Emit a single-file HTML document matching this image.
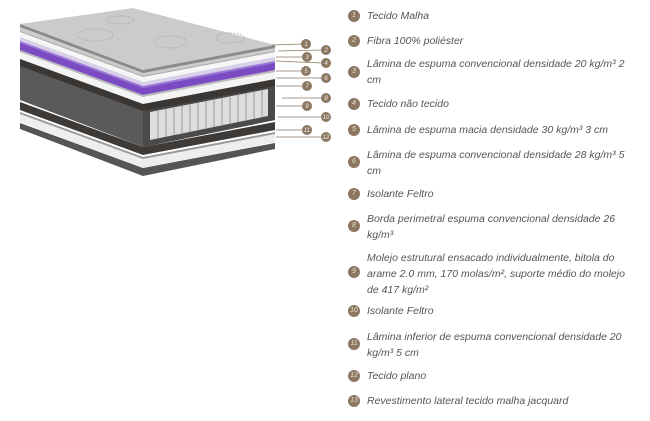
<!DOCTYPE html>
<html><head><meta charset="utf-8"><style>
body{margin:0;width:650px;height:421px;background:#fff;position:relative;overflow:hidden;font-family:"Liberation Sans",sans-serif}
.it{position:absolute;left:367px;font-style:italic;font-size:10.5px;color:#555;line-height:16px;white-space:nowrap}
.c{position:absolute;left:348px;width:12px;height:12px;border-radius:50%;background:#8c7862;color:#e8ddd0;font-size:7px;text-align:center;line-height:12px;font-style:italic}
</style></head><body>
<svg width="340" height="190" style="position:absolute;left:0;top:0">
<g stroke="none">
<polygon points="20,123 143,168 275,143 275,149 143,176 20,129" fill="#555"/>
<polygon points="20,112 143,157 275,132 275,142 143,168 20,122" fill="#eee"/>
<polygon points="20,112 143,157 275,132 275,134 143,159 20,114" fill="#999"/>
<polygon points="20,102 143,147 275,122 275,130 143,155 20,110" fill="#3e3a38"/>
<polygon points="20,64 143,109 275,84 275,120 143,147 20,100" fill="#5a5a5a"/>
<polygon points="143,109 275,84 275,120 143,147" fill="#4a4a4a"/>
<polygon points="150,112 268,89 268,116 150,140" fill="#ddd"/>
<g stroke="#999" stroke-width="1">
<line x1="158" y1="111" x2="158" y2="138"/><line x1="166" y1="109" x2="166" y2="137"/><line x1="174" y1="108" x2="174" y2="135"/><line x1="182" y1="106" x2="182" y2="133"/><line x1="190" y1="105" x2="190" y2="132"/><line x1="198" y1="103" x2="198" y2="130"/><line x1="206" y1="101" x2="206" y2="129"/><line x1="214" y1="100" x2="214" y2="127"/><line x1="222" y1="98" x2="222" y2="125"/><line x1="230" y1="97" x2="230" y2="124"/><line x1="238" y1="95" x2="238" y2="122"/><line x1="246" y1="93" x2="246" y2="120"/><line x1="254" y1="92" x2="254" y2="119"/><line x1="262" y1="90" x2="262" y2="117"/>
</g>
<polygon points="20,58 143,103 275,78 275,86 143,111 20,66" fill="#3a3634"/>
<polygon points="20,50 143,95 275,70 275,79 143,104 20,59" fill="#f4f4f4"/>
<polygon points="20,50 143,95 275,70 275,72 143,97 20,52" fill="#bbb"/>
<polygon points="20,40 143,85 275,60 275,70 143,95 20,50" fill="#7a4bc2"/>
<polygon points="20,40 143,85 275,60 275,63 143,88 20,43" fill="#9b78d6"/>
<polygon points="20,36 143,81 275,56 275,61 143,86 20,41" fill="#d8d0e8"/>
<polygon points="20,30 143,75 275,50 275,57 143,82 20,37" fill="#f6f6f6"/>
<polygon points="20,30 143,75 275,50 275,52 143,77 20,32" fill="#aaa"/>
<polygon points="20,27 143,72 275,47 275,51 143,76 20,31" fill="#ccc"/>
<polygon points="20,24 133,8 275,45 143,70" fill="#cbcbcb"/>
<polygon points="20,24 143,70 275,45 275,48 143,73 20,27" fill="#8a8a8a"/>
<g fill="none" stroke="#aaa" stroke-dasharray="1.5,1.5" stroke-width="1">
<ellipse cx="95" cy="35" rx="18" ry="6"/><ellipse cx="170" cy="42" rx="16" ry="6"/><ellipse cx="230" cy="38" rx="14" ry="5"/><ellipse cx="120" cy="20" rx="14" ry="4"/>
</g>
</g>
<g stroke="#8c7862" stroke-width="0.8">
<line x1="272" y1="45" x2="302" y2="44"/><line x1="278" y1="51" x2="322" y2="50"/><line x1="276" y1="57" x2="302" y2="57"/><line x1="276" y1="61" x2="322" y2="63"/><line x1="276" y1="71" x2="302" y2="71"/><line x1="276" y1="78" x2="322" y2="78"/><line x1="276" y1="86" x2="302" y2="86"/><line x1="282" y1="98" x2="322" y2="98"/><line x1="276" y1="106" x2="302" y2="106"/><line x1="278" y1="117" x2="322" y2="117"/><line x1="276" y1="130" x2="302" y2="130"/><line x1="276" y1="137" x2="322" y2="137"/>
</g>
<g fill="#8c7862">
<circle cx="306" cy="44" r="5"/><circle cx="326" cy="50" r="5"/><circle cx="307" cy="57" r="5"/><circle cx="326" cy="63" r="5"/><circle cx="306" cy="71" r="5"/><circle cx="326" cy="78" r="5"/><circle cx="307" cy="86" r="5"/><circle cx="326" cy="98" r="5"/><circle cx="307" cy="106" r="5"/><circle cx="326" cy="117" r="5"/><circle cx="307" cy="130" r="5"/><circle cx="326" cy="137" r="5"/>
</g>
<g fill="#eee" font-size="6" font-style="italic" text-anchor="middle" font-family="Liberation Sans, sans-serif">
<text x="306" y="46">1</text><text x="326" y="52">2</text><text x="307" y="59">3</text><text x="326" y="65">4</text><text x="306" y="73">5</text><text x="326" y="80">6</text><text x="307" y="88">7</text><text x="326" y="100">8</text><text x="307" y="108">9</text><text x="326" y="119">10</text><text x="307" y="132">11</text><text x="326" y="139">12</text>
</g>
</svg>

<div class="c" style="top:10px">1</div><div class="it" style="top:8px">Tecido Malha</div>
<div class="c" style="top:35px">2</div><div class="it" style="top:33px">Fibra 100% poliéster</div>
<div class="c" style="top:66px">3</div><div class="it" style="top:56px">Lâmina de espuma convencional densidade 20 kg/m³ 2<br>cm</div>
<div class="c" style="top:98px">4</div><div class="it" style="top:96px">Tecido não tecido</div>
<div class="c" style="top:124px">5</div><div class="it" style="top:122px">Lâmina de espuma macia densidade 30 kg/m³ 3 cm</div>
<div class="c" style="top:156px">6</div><div class="it" style="top:147px">Lâmina de espuma convencional densidade 28 kg/m³ 5<br>cm</div>
<div class="c" style="top:188px">7</div><div class="it" style="top:186px">Isolante Feltro</div>
<div class="c" style="top:220px">8</div><div class="it" style="top:211px">Borda perimetral espuma convencional densidade 26<br>kg/m³</div>
<div class="c" style="top:266px">9</div><div class="it" style="top:250px">Molejo estrutural ensacado individualmente, bitola do<br>arame 2.0 mm, 170 molas/m², suporte médio do molejo<br>de 417 kg/m²</div>
<div class="c" style="top:305px">10</div><div class="it" style="top:303px">Isolante Feltro</div>
<div class="c" style="top:338px">11</div><div class="it" style="top:329px">Lâmina inferior de espuma convencional densidade 20<br>kg/m³ 5 cm</div>
<div class="c" style="top:370px">12</div><div class="it" style="top:368px">Tecido plano</div>
<div class="c" style="top:395px">13</div><div class="it" style="top:393px">Revestimento lateral tecido malha jacquard</div>
</body></html>
